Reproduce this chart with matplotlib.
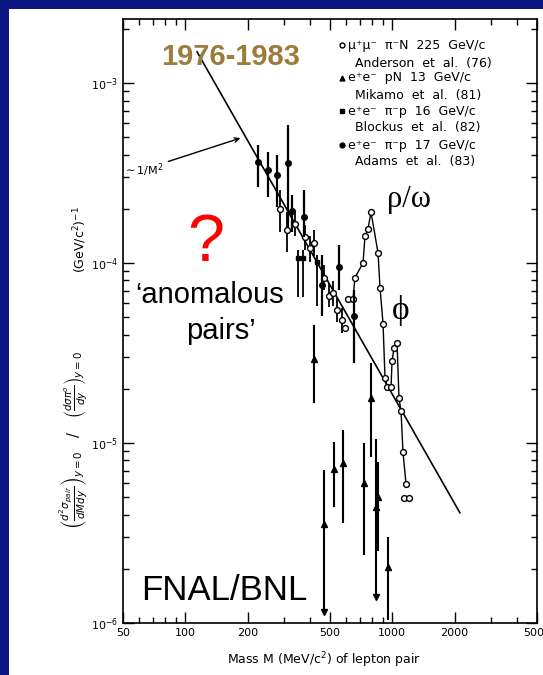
import numpy as np
import matplotlib.pyplot as plt
from matplotlib.patches import Rectangle

NAVY = "#0b1682"
GOLD = "#9c7c3c"
W, H = 543, 675

# Anderson et al. (76)  mu+mu-  pi-N 225 GeV/c  (open circles)
and_mass = [287, 310, 339, 379, 400, 419, 468, 495, 517, 541, 572, 591,
            611, 646, 660, 722, 738, 763, 789, 853, 872, 902, 922, 943,
            986, 997, 1019, 1054, 1077, 1102, 1126, 1165, 1139, 1204]
and_val = [2.0e-4, 1.53e-4, 1.65e-4, 1.40e-4, 1.21e-4, 1.29e-4, 8.3e-5, 6.6e-5,
           6.8e-5, 5.5e-5, 4.8e-5, 4.35e-5, 6.3e-5, 6.3e-5, 8.3e-5, 1.0e-4,
           1.41e-4, 1.55e-4, 1.92e-4, 1.14e-4, 7.3e-5, 4.6e-5, 2.3e-5, 2.05e-5,
           2.05e-5, 2.85e-5, 3.37e-5, 3.6e-5, 1.78e-5, 1.5e-5, 8.9e-6, 5.9e-6,
           4.95e-6, 4.95e-6]
and_hi = [2.55e-4, 1.92e-4, 1.92e-4, 1.63e-4, 1.41e-4, 1.53e-4, 9.7e-5, 7.7e-5, 7.9e-5, 6.4e-5, 5.6e-5]
and_lo = [1.49e-4, 1.15e-4, 1.41e-4, 1.18e-4, 1.01e-4, 1.09e-4, 7.1e-5, 5.7e-5, 5.8e-5, 4.7e-5, 4.1e-5]

# Adams et al. (83)  e+e-  pi-p 17 GeV/c  (filled circles)
ada_mass = [224, 251, 277, 313, 328, 375, 458, 553, 653]
ada_val = [3.64e-4, 3.29e-4, 3.08e-4, 3.59e-4, 1.95e-4, 1.80e-4, 7.6e-5, 9.5e-5, 5.1e-5]
ada_hi = [4.52e-4, 4.14e-4, 3.98e-4, 5.84e-4, 2.39e-4, 2.55e-4, 1.11e-4, 1.26e-4, 7.1e-5]
ada_lo = [2.64e-4, 2.33e-4, 2.05e-4, 1.57e-4, 1.49e-4, 1.40e-4, 5.1e-5, 7.1e-5, 2.8e-5]

# Blockus et al. (82)  e+e-  pi-p 16 GeV/c  (small squares)
blo_mass = [350, 370, 433]
blo_val = [1.07e-4, 1.07e-4, 1.01e-4]
blo_hi = [1.18e-4, 1.18e-4, 1.11e-4]
blo_lo = [6.5e-5, 6.5e-5, 5.8e-5]

# Mikamo et al. (81)  e+e-  pN 13 GeV/c  (triangles)
mik_mass = [419, 789, 468, 523, 578, 730, 834, 853, 953]
mik_val = [2.93e-5, 1.78e-5, 3.55e-6, 7.2e-6, 7.7e-6, 6.0e-6, 4.4e-6, 5.0e-6, 2.05e-6]
mik_hi = [4.5e-5, 2.8e-5, 7.1e-6, 1.01e-5, 1.18e-5, 1.0e-5, 1.05e-5, 7.8e-6, 3.0e-6]
mik_lo = [1.67e-5, 8.4e-6, 1.15e-6, 4.4e-6, 3.6e-6, 2.4e-6, 1.39e-6, 2.5e-6, 1.04e-6]
mik_arrow = [False, False, True, False, False, False, True, False, False]

# ~1/M^2 line
line_mass = [114, 2120]
line_val = [1.49e-3, 4.1e-6]

xticks = [50, 100, 200, 500, 1000, 2000, 5000]


def px(x, y):
    return x / W, 1 - y / H


def bars(m, v, lo, hi):
    v = np.array(v)
    return [v - np.array(lo), np.array(hi) - v]


fig = plt.figure(figsize=(W / 100, H / 100), dpi=100, facecolor=NAVY)
fig.add_artist(Rectangle((9 / W, 0), 1, 1 - 9 / H, transform=fig.transFigure,
                         facecolor="white", edgecolor="none", zorder=0))

ax = fig.add_axes([123 / W, 1 - 623 / H, 414 / W, 604 / H])
ax.set_facecolor("none")
ax.set_xscale("log")
ax.set_yscale("log")
ax.set_xlim(50, 5000)
ax.set_ylim(1e-6, 2.27e-3)

ax.plot(line_mass, line_val, color="black", lw=1.2)

ax.errorbar(and_mass[:11], and_val[:11], yerr=bars(and_mass[:11], and_val[:11], and_lo, and_hi),
            fmt="none", ecolor="black", elinewidth=1.3)
ax.plot(and_mass[12:32], and_val[12:32], color="black", lw=1.0)
ax.plot(and_mass, and_val, "o", ms=4.2, mfc="white", mec="black", mew=1.0)

ax.errorbar(ada_mass, ada_val, yerr=bars(ada_mass, ada_val, ada_lo, ada_hi),
            fmt="o", ms=4, color="black", elinewidth=1.6)
ax.errorbar(blo_mass, blo_val, yerr=bars(blo_mass, blo_val, blo_lo, blo_hi),
            fmt="s", ms=2.5, color="black", elinewidth=1.3)
ax.errorbar(mik_mass, mik_val, yerr=bars(mik_mass, mik_val, mik_lo, mik_hi),
            fmt="^", ms=4.5, color="black", elinewidth=1.5)
arr_m = [m for m, a in zip(mik_mass, mik_arrow) if a]
arr_v = [v for v, a in zip(mik_lo, mik_arrow) if a]
ax.plot(arr_m, arr_v, "v", ms=4, color="black")

ax.annotate("$\\sim$1/M$^2$", xy=(190, 5.0e-4), xytext=(78, 3.3e-4),
            fontsize=8, ha="right", va="center",
            arrowprops=dict(arrowstyle="->", color="black", lw=1))

ax.set_xticks(xticks)
ax.set_xticklabels([str(t) for t in xticks])
ax.tick_params(which="both", direction="in", top=True, right=True, labelsize=8, width=1)
ax.tick_params(which="major", length=8)
ax.tick_params(which="minor", length=4)
for s in ax.spines.values():
    s.set_linewidth(1.2)

# legend, drawn by hand like the scanned figure
leg_marks = ["o", "^", "s", "o"]
leg_lines = ["μ⁺μ⁻  π⁻N  225  GeV/c", "Anderson  et  al.  (76)",
             "e⁺e⁻  pN  13  GeV/c", "Mikamo  et  al.  (81)",
             "e⁺e⁻  π⁻p  16  GeV/c", "Blockus  et  al.  (82)",
             "e⁺e⁻  π⁻p  17  GeV/c", "Adams  et  al.  (83)"]
leg_y = [45, 63, 78, 95, 111, 127, 145, 161]
for i, t in enumerate(leg_lines):
    x0 = 348 if i % 2 == 0 else 355
    fig.text(*px(x0, leg_y[i]), t, fontsize=9, va="center", ha="left")
for i, mk in enumerate(leg_marks):
    fx, fy = px(342, leg_y[2 * i])
    fig.add_artist(plt.Line2D([fx], [fy], marker=mk, ms=3.5 if mk != "s" else 2.5,
                              mfc="white" if i == 0 else "black", mec="black",
                              transform=fig.transFigure))

fig.text(*px(161, 57), "1976-1983", fontsize=21, fontweight="bold", color=GOLD,
         family="Liberation Sans", va="center", ha="left")
fig.text(*px(206, 244), "?", fontsize=48, color="red", family="Liberation Sans",
         va="center", ha="center")
fig.text(*px(210, 295), "‘anomalous", fontsize=21, family="Liberation Sans",
         va="center", ha="center")
fig.text(*px(221, 331), "pairs’", fontsize=21, family="Liberation Sans",
         va="center", ha="center")
fig.text(*px(409, 200), "ρ/ω", fontsize=22, family=["Liberation Serif", "DejaVu Serif"],
         va="center", ha="center")
fig.text(*px(401, 311), "ϕ", fontsize=24, family=["Liberation Serif", "DejaVu Serif"],
         va="center", ha="center")
fig.text(*px(141, 590), "FNAL/BNL", fontsize=25, family="Liberation Sans",
         va="center", ha="left")

fig.text(*px(324, 660), "Mass M (MeV/c$^2$) of lepton pair", fontsize=9,
         ha="center", va="center")
ylab = (r"$\left(\frac{d^2\sigma_{pair}}{dMdy}\right)_{y=0}\quad/\quad"
        r"\left(\frac{d\sigma\pi^{o}}{dy}\right)_{y=0}$")
fig.text(*px(74, 440), ylab, fontsize=10.5, rotation=90, ha="center", va="center")
fig.text(*px(80, 240), "(GeV/c$^2$)$^{-1}$", fontsize=9, rotation=90,
         ha="center", va="center")

fig.savefig("out.png", dpi=100, facecolor=NAVY)
